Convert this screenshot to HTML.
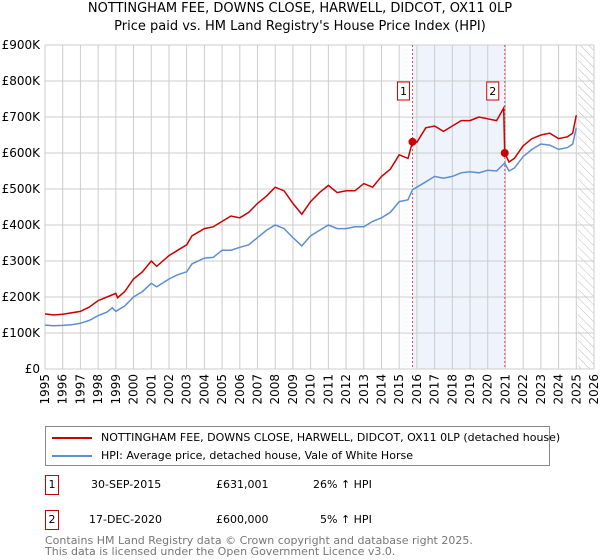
<!DOCTYPE html>
<html><head><meta charset="utf-8"><style>
body{margin:0;background:#fff;font-family:"Liberation Sans","DejaVu Sans",sans-serif;}
#wrap{position:relative;width:600px;height:560px;overflow:hidden;}
.t{position:absolute;font-size:12px;color:#000;white-space:nowrap;}
</style></head><body>
<div id="wrap">
<div class="t" style="left:0;width:600px;text-align:center;top:1px;font-size:13px;font-family:'DejaVu Sans',sans-serif;">NOTTINGHAM FEE, DOWNS CLOSE, HARWELL, DIDCOT, OX11 0LP</div>
<div class="t" style="left:0;width:600px;text-align:center;top:19px;font-size:13px;font-family:'DejaVu Sans',sans-serif;">Price paid vs. HM Land Registry's House Price Index (HPI)</div>
<svg id="chart" width="600" height="420" style="position:absolute;left:0;top:0;font-family:'DejaVu Sans',sans-serif;"></svg>
<div style="position:absolute;left:45px;top:426px;width:505px;height:40px;border:1px solid #888;box-sizing:border-box;">
 <div style="position:absolute;left:6px;top:4px;font-size:11px;font-family:'DejaVu Sans',sans-serif;white-space:nowrap;"><span style="display:inline-block;width:40px;height:2px;background:#cc0000;vertical-align:middle;margin-right:9px;"></span>NOTTINGHAM FEE, DOWNS CLOSE, HARWELL, DIDCOT, OX11 0LP (detached house)</div>
 <div style="position:absolute;left:6px;top:22px;font-size:11px;font-family:'DejaVu Sans',sans-serif;white-space:nowrap;"><span style="display:inline-block;width:40px;height:2px;background:#5b8fd4;vertical-align:middle;margin-right:9px;"></span>HPI: Average price, detached house, Vale of White Horse</div>
</div>
<div style="position:absolute;left:0;top:475px;width:600px;height:20px;font-size:11px;font-family:'DejaVu Sans',sans-serif;">
 <span style="position:absolute;left:45px;top:0;width:12px;height:18px;border:1px solid #cc0000;text-align:center;line-height:18px;">1</span>
 <span style="position:absolute;left:91px;top:3px;">30-SEP-2015</span>
 <span style="position:absolute;left:216px;top:3px;">£631,001</span>
 <span style="position:absolute;left:313px;top:3px;">26% ↑ HPI</span>
</div>
<div style="position:absolute;left:0;top:510px;width:600px;height:20px;font-size:11px;font-family:'DejaVu Sans',sans-serif;">
 <span style="position:absolute;left:45px;top:0;width:12px;height:18px;border:1px solid #cc0000;text-align:center;line-height:18px;">2</span>
 <span style="position:absolute;left:89px;top:3px;">17-DEC-2020</span>
 <span style="position:absolute;left:216px;top:3px;">£600,000</span>
 <span style="position:absolute;left:320px;top:3px;">5% ↑ HPI</span>
</div>
<div class="t" style="left:45px;top:535px;font-size:11px;color:#777;line-height:11px;font-family:'DejaVu Sans',sans-serif;">Contains HM Land Registry data © Crown copyright and database right 2025.<br>This data is licensed under the Open Government Licence v3.0.</div>
</div>
<script>
const yTicks=[0,100,200,300,400,500,600,700,800,900];
const xYears=[1995,1996,1997,1998,1999,2000,2001,2002,2003,2004,2005,2006,2007,2008,2009,2010,2011,2012,2013,2014,2015,2016,2017,2018,2019,2020,2021,2022,2023,2024,2025,2026];
const hpiT=[1995,1995.5,1996,1996.5,1997,1997.5,1998,1998.5,1998.8,1999,1999.5,2000,2000.5,2001,2001.3,2002,2002.5,2003,2003.3,2004,2004.5,2005,2005.5,2006,2006.5,2007,2007.5,2008,2008.5,2009,2009.5,2010,2010.5,2011,2011.5,2012,2012.5,2013,2013.5,2014,2014.5,2015,2015.5,2015.75,2016,2016.5,2017,2017.5,2018,2018.5,2019,2019.5,2020,2020.5,2020.96,2021.2,2021.5,2022,2022.5,2023,2023.5,2024,2024.5,2024.8,2025];
const hpiV=[122,120,121,123,127,135,148,158,170,160,175,200,215,238,228,250,262,270,292,308,310,330,330,338,345,365,385,400,390,365,342,370,385,400,390,390,395,395,410,420,435,465,470,498,505,520,535,530,535,545,548,545,552,550,572,550,558,590,610,625,622,610,615,625,670];
const propT=[1995,1995.5,1996,1997,1997.5,1998,1998.5,1999,1999.1,1999.5,2000,2000.5,2001,2001.3,2002,2002.5,2003,2003.3,2004,2004.5,2005,2005.5,2006,2006.5,2007,2007.5,2008,2008.5,2009,2009.5,2010,2010.5,2011,2011.5,2012,2012.5,2013,2013.5,2014,2014.5,2015,2015.5,2015.75,2016,2016.5,2017,2017.5,2018,2018.5,2019,2019.5,2020,2020.5,2020.9,2020.96,2021.2,2021.5,2022,2022.5,2023,2023.5,2024,2024.5,2024.8,2025];
const propV=[153,150,152,160,172,190,200,210,198,215,250,270,300,285,315,330,345,370,390,395,410,425,420,435,460,480,505,495,460,430,465,490,510,490,495,495,515,505,535,555,595,585,631,630,670,675,660,675,690,690,700,695,690,725,600,575,585,620,640,650,655,640,645,655,705];
const saleT=[2015.75,2020.96];
const saleV=[631,600];
const saleLabels=["1","2"];
const X0=45,X1=594,Y0=369,Y1=45;
const xs=t=>X0+(t-1995)/(2026-1995)*(X1-X0);
const ys=v=>Y0-v/900*(Y0-Y1);
const svg=document.getElementById('chart');
const NS='http://www.w3.org/2000/svg';
function mk(tag,attrs,parent){const e=document.createElementNS(NS,tag);for(const k in attrs)e.setAttribute(k,attrs[k]);(parent||svg).appendChild(e);return e;}
let sh=mk('rect',{x:xs(saleT[0]),y:Y1,width:xs(saleT[1])-xs(saleT[0]),height:Y0-Y1,fill:'#eef3fc'});


const defs=mk('defs',{});
const pat=mk('pattern',{id:'hatch',width:6,height:6,patternUnits:'userSpaceOnUse',patternTransform:'rotate(-45)'},defs);
mk('line',{x1:0,y1:0,x2:0,y2:6,stroke:'#bbb','stroke-width':1},pat);
let hr=mk('rect',{x:xs(2025.1),y:Y1,width:X1-xs(2025.1),height:Y0-Y1,fill:'url(#hatch)'});


xYears.forEach(y=>{let l=mk('line',{x1:xs(y),x2:xs(y),y1:Y1,y2:Y0,stroke:'#ccc','stroke-width':1});


let px=xs(y)+4,py=374;
let t=mk('text',{x:px,y:py,'font-size':12,'text-anchor':'end',fill:'#000',transform:'rotate(-90 '+px+' '+py+')'});t.textContent=y;

});
yTicks.forEach(v=>{let l=mk('line',{x1:X0,x2:X1,y1:ys(v),y2:ys(v),stroke:'#ccc','stroke-width':1});


let t=mk('text',{x:X0-5,y:ys(v)+4,'font-size':12,'text-anchor':'end',fill:'#000'});t.textContent=v===0?'£0':'£'+v+'K';

});
saleT.forEach((t,i)=>{let l=mk('line',{x1:xs(t),x2:xs(t),y1:Y1,y2:Y0,stroke:'#e05050','stroke-width':1,'stroke-dasharray':'2,2'});

});
function line(T,V,color,name){let d=T.map((t,i)=>(i?'L':'M')+xs(t).toFixed(1)+','+ys(V[i]).toFixed(1)).join('');
let p=mk('path',{d:d,fill:'none',stroke:color,'stroke-width':1.5});

}
line(hpiT,hpiV,'#5b8fd4','hpi-line');
line(propT,propV,'#cc0000','property-price-line');
saleT.forEach((t,i)=>{let c=mk('circle',{cx:xs(t),cy:ys(saleV[i]),r:4,fill:'#cc0000'});


let bx=xs(t)-(i===0?9:12);
let r=mk('rect',{x:bx-6,y:82,width:12,height:18,fill:'#fff',stroke:'#cc0000'});


let tx=mk('text',{x:bx,y:95,'font-size':11,'text-anchor':'middle'});tx.textContent=saleLabels[i];

});
</script>
</body></html>
